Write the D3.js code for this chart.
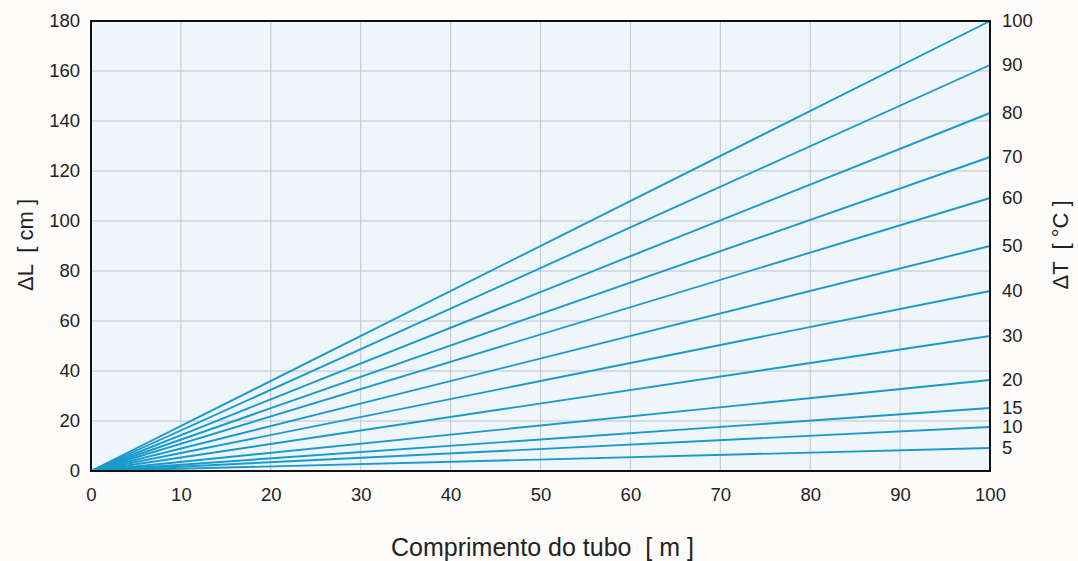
<!DOCTYPE html>
<html><head><meta charset="utf-8">
<script src="https://cdn.jsdelivr.net/npm/d3@7/dist/d3.min.js"></script>
<style>body{margin:0;background:#fdfcfb;} svg{display:block;font-family:"Liberation Sans",Arial,sans-serif;} text{white-space:pre;}</style>
</head><body>
<script>
const deltaT = [100, 90, 80, 70, 60, 50, 40, 30, 20, 15, 10, 5];
const deltaLAt100m = [180, 162.4, 143.2, 125.6, 109.2, 90, 72, 54, 36.4, 25.2, 17.6, 9.2];
const xTicks = [0,10,20,30,40,50,60,70,80,90,100];
const yTicks = [0,20,40,60,80,100,120,140,160,180];

const W=1078,H=561;
const m={l:91,r:88,t:21,b:90};
const FS=18.5;
const svg=d3.select("body").append("svg").attr("width",W).attr("height",H);
svg.append("rect").attr("width",W).attr("height",H).attr("fill","#fdfcfb");
const x=d3.scaleLinear().domain([0,100]).range([m.l,W-m.r]);
const y=d3.scaleLinear().domain([0,180]).range([H-m.b,m.t]);

svg.append("rect").attr("x",x(0)).attr("y",y(180)).attr("width",x(100)-x(0)).attr("height",y(0)-y(180)).attr("fill","#eef5fb");

const g=svg.append("g");
g.selectAll(".vg").data(xTicks.slice(1,-1)).join("line").attr("x1",d=>x(d)).attr("x2",d=>x(d)).attr("y1",y(0)).attr("y2",y(180)).attr("stroke","#bfc4ca").attr("stroke-width",1);
g.selectAll(".hg").data(yTicks.slice(1,-1)).join("line").attr("y1",d=>y(d)).attr("y2",d=>y(d)).attr("x1",x(0)).attr("x2",x(100)).attr("stroke","#bfc4ca").attr("stroke-width",1);

const lines=deltaT.map((t,i)=>[[0,0],[100,deltaLAt100m[i]]]);
const lineGen=d3.line().x(d=>x(d[0])).y(d=>y(d[1]));
svg.selectAll(".ln").data(lines).join("path").attr("d",lineGen).attr("fill","none").attr("stroke","#1a9acb").attr("stroke-width",1.9);

svg.append("rect").attr("x",x(0)).attr("y",y(180)).attr("width",x(100)-x(0)).attr("height",y(0)-y(180)).attr("fill","none").attr("stroke","#111").attr("stroke-width",2);

const xa=svg.append("g").attr("transform",`translate(0,${y(0)})`).call(d3.axisBottom(x).tickValues(xTicks).tickSize(0).tickPadding(17));
xa.select(".domain").remove();
xa.selectAll("text").attr("font-size",FS).attr("fill","#222").style("font-family","Liberation Sans, Arial, sans-serif");

const ya=svg.append("g").attr("transform",`translate(${x(0)},0)`).call(d3.axisLeft(y).tickValues(yTicks).tickSize(0).tickPadding(11));
ya.select(".domain").remove();
ya.selectAll("text").attr("font-size",FS).attr("fill","#222").style("font-family","Liberation Sans, Arial, sans-serif");

svg.selectAll(".rl").data(deltaT).join("text").attr("x",x(100)+12).attr("y",(d,i)=>y(deltaLAt100m[i])).attr("dy","0.35em").attr("font-size",FS).attr("fill","#222").text(d=>d);

svg.append("text").attr("x",x(50)+2).attr("y",556).attr("text-anchor","middle").attr("font-size",25).attr("fill","#222").text("Comprimento do tubo  [ m ]");
svg.append("text").attr("transform",`translate(33,245) rotate(-90)`).attr("text-anchor","middle").attr("font-size",22).attr("fill","#222").text("ΔL  [ cm ]");
svg.append("text").attr("transform",`translate(1068,245) rotate(-90)`).attr("text-anchor","middle").attr("font-size",22).attr("fill","#222").text("ΔT  [ °C ]");
</script>
</body></html>
